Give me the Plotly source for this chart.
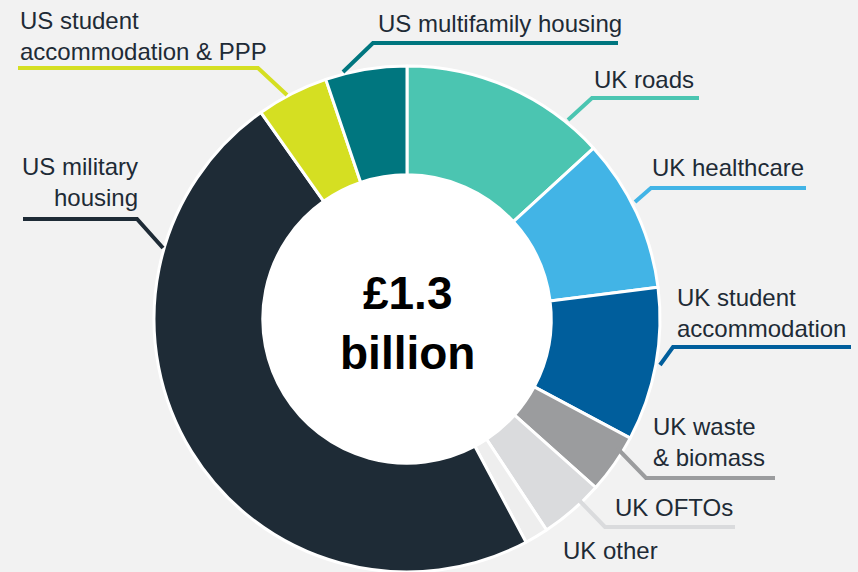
import plotly.graph_objects as go

W, H = 858, 572

# share of the £1.3bn portfolio, % (read clockwise from 12 o'clock)
sectors = [
    "UK roads",
    "UK healthcare",
    "UK student accommodation",
    "UK waste & biomass",
    "UK OFTOs",
    "UK other",
    "US military housing",
    "US student accommodation & PPP",
    "US multifamily housing",
]
shares = [13.2, 9.8, 9.8, 3.8, 4.1, 1.5, 48.0, 4.6, 5.2]
colours = [
    "#4bc5b1", "#42b4e6", "#005e9c", "#9b9c9e", "#dadbdd",
    "#eeeeee", "#1e2b36", "#d5df22", "#00767f",
]
label_text = [
    "UK roads",
    "UK healthcare",
    "UK student<br>accommodation",
    "UK waste<br>& biomass",
    "UK OFTOs",
    "UK other",
    "US military<br>housing",
    "US student<br>accommodation & PPP",
    "US multifamily housing",
]
centre_text = "£1.3<br>billion"

TXT = "#1e2b36"
FONT = "Liberation Sans, Arial, sans-serif"


def px_x(x):
    return x / W


def px_y(y):
    return (H - y) / H


fig = go.Figure(
    go.Pie(
        labels=sectors,
        values=shares,
        sort=False,
        direction="clockwise",
        rotation=0,
        hole=0.57,
        marker=dict(colors=colours, line=dict(color="white", width=3)),
        textinfo="none",
        hoverinfo="label+percent",
        domain=dict(x=[px_x(153), px_x(661)], y=[0, px_y(66)]),
        showlegend=False,
    )
)

# white centre behind the hole
fig.add_shape(
    type="circle", xref="paper", yref="paper", layer="below",
    x0=px_x(262), x1=px_x(552), y0=px_y(319 + 145), y1=px_y(319 - 145),
    fillcolor="white", line_width=0,
)

# label anchors (pixel): x, y, xanchor, align, leader path
placements = [
    (592, 79, "left", "left", [(699, 98), (592, 98), (568, 120)]),
    (650, 167, "left", "left", [(806, 188), (651, 188), (635, 202)]),
    (675, 313, "left", "left", [(851, 347), (673, 347), (660, 365)]),
    (651, 442, "left", "left", [(617, 448), (646, 478), (775, 478)]),
    (613, 507, "left", "left", [(576, 497), (605, 527), (735, 527)]),
    (561, 550, "left", "left", None),
    (140, 182, "right", "right", [(23, 219), (137, 219), (163, 248)]),
    (18, 36, "left", "left", [(18, 68), (258, 68), (287, 95)]),
    (376, 23, "left", "left", [(343, 72), (373, 43), (618, 43)]),
]

for txt, col, (x, y, xa, al, path) in zip(label_text, colours, placements):
    fig.add_annotation(
        x=px_x(x), y=px_y(y), xref="paper", yref="paper",
        text=txt, showarrow=False, xanchor=xa, yanchor="middle", align=al,
        font=dict(family=FONT, size=24, color=TXT),
    )
    if path:
        d = "M" + " L".join(f"{px_x(a)},{px_y(b)}" for a, b in path)
        fig.add_shape(
            type="path", path=d, xref="paper", yref="paper",
            line=dict(color=col, width=4),
        )

fig.add_annotation(
    x=px_x(407), y=px_y(323), xref="paper", yref="paper",
    text=centre_text, showarrow=False, xanchor="center", yanchor="middle",
    font=dict(family=FONT, size=46, color="black", weight="bold"),
)

fig.update_layout(
    width=W, height=H,
    margin=dict(l=0, r=0, t=0, b=0),
    paper_bgcolor="#f2f2f2",
    plot_bgcolor="#f2f2f2",
)

fig.write_html(
    "out.html",
    config={"displayModeBar": False},
    post_script="document.body.style.margin='0';document.body.style.background='#f2f2f2';",
)
